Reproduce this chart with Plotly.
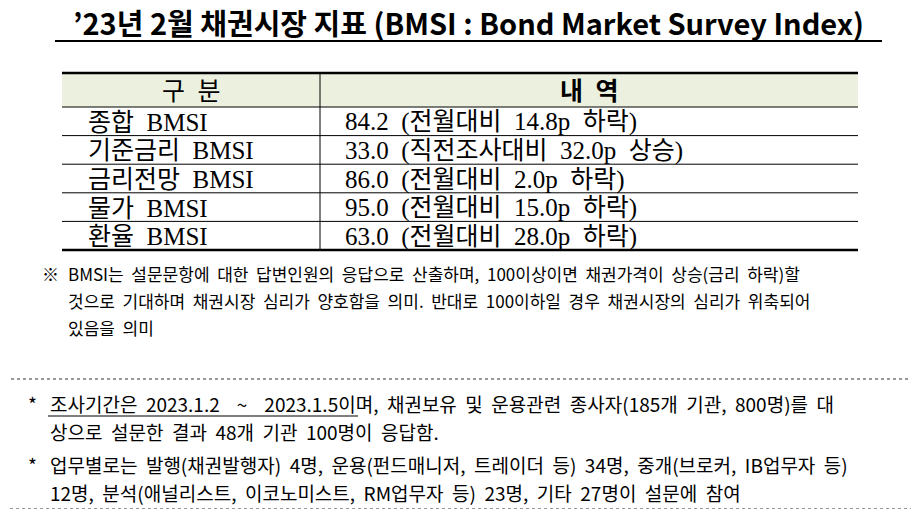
import plotly.graph_objects as go

# ── Data ─────────────────────────────────────────────────────────────────────
TITLE = "’23년 2월 채권시장 지표 (BMSI : Bond Market Survey Index)"
HEADERS = ["구 분", "내 역"]
categories = ["종합 BMSI", "기준금리 BMSI", "금리전망 BMSI", "물가 BMSI", "환율 BMSI"]
bmsi_values = [84.2, 33.0, 86.0, 95.0, 63.0]
compare_basis = ["전월대비", "직전조사대비", "전월대비", "전월대비", "전월대비"]
changes = [14.8, 32.0, 2.0, 15.0, 28.0]
directions = ["하락", "상승", "하락", "하락", "하락"]

NOTE_LINES = [
    "BMSI는 설문문항에 대한 답변인원의 응답으로 산출하며, 100이상이면 채권가격이 상승(금리 하락)할",
    "것으로 기대하며 채권시장 심리가 양호함을 의미. 반대로 100이하일 경우 채권시장의 심리가 위축되어",
    "있음을 의미",
]
BOX_LINES = [
    ("*", "조사기간은 2023.1.2  ~  2023.1.5이며, 채권보유 및 운용관련 종사자(185개 기관, 800명)를 대"),
    ("", "상으로 설문한 결과 48개 기관 100명이 응답함."),
    ("*", "업무별로는 발행(채권발행자) 4명, 운용(펀드매니저, 트레이더 등) 34명, 중개(브로커, IB업무자 등)"),
    ("", "12명, 분석(애널리스트, 이코노미스트, RM업무자 등) 23명, 기타 27명이 설문에 참여"),
]

SERIF = "Liberation Serif, Noto Sans CJK KR"
SANS = "Noto Sans CJK KR"


def wide(s):
    # the reference font sets words far apart
    return s.replace(" ", "\u00a0 ")


# ── Geometry (pixels, page coordinates) ──────────────────────────────────────
W, H = 919, 517
PAD = 8  # body margin of the written page
TX0, TX1, TDIV = 62, 858, 320
HEAD_TOP, HEAD_BOT = 73, 107
ROW_H = 28.6

fig = go.Figure()
shapes, annos = [], []

annos.append(dict(x=468, y=22, text=f"<b>{TITLE}</b>", showarrow=False,
                  font=dict(family=SANS, size=29, color="black")))
shapes.append(dict(type="line", x0=55, x1=882, y0=41, y1=41, line=dict(color="black", width=2)))

# header
shapes.append(dict(type="rect", x0=TX0, x1=TX1, y0=HEAD_TOP, y1=HEAD_BOT,
                   fillcolor="#EBF1DE", line=dict(width=0), layer="below"))
for i, h in enumerate(HEADERS):
    cx = (TX0 + TDIV) / 2 if i == 0 else (TDIV + TX1) / 2
    annos.append(dict(x=cx, y=(HEAD_TOP + HEAD_BOT) / 2 + 1, text=f"<b>{wide(h)}</b>" if i else wide(h),
                      showarrow=False, font=dict(family=SERIF, size=25, color="black")))

bottom = HEAD_BOT + ROW_H * len(categories)
for i, (cat, v, basis, c, d) in enumerate(zip(categories, bmsi_values, compare_basis, changes, directions)):
    yc = HEAD_BOT + ROW_H * (i + 0.5) + 1
    annos.append(dict(x=86, y=yc, text=wide(cat), xanchor="left", showarrow=False,
                      font=dict(family=SERIF, size=25, color="black")))
    annos.append(dict(x=343, y=yc, text=wide(f"{v:.1f} ({basis} {c:.1f}p {d})"), xanchor="left",
                      showarrow=False, font=dict(family=SERIF, size=25, color="black")))
    if i > 0:
        y = HEAD_BOT + ROW_H * i
        shapes.append(dict(type="line", x0=TX0, x1=TX1, y0=y, y1=y, line=dict(color="black", width=1)))

shapes += [
    dict(type="line", x0=TX0, x1=TX1, y0=HEAD_TOP, y1=HEAD_TOP, line=dict(color="black", width=2.5)),
    dict(type="line", x0=TX0, x1=TX1, y0=HEAD_BOT, y1=HEAD_BOT, line=dict(color="black", width=1)),
    dict(type="line", x0=TX0, x1=TX1, y0=bottom, y1=bottom, line=dict(color="black", width=2.5)),
    dict(type="line", x0=TDIV, x1=TDIV, y0=HEAD_TOP, y1=bottom, line=dict(color="black", width=1)),
]

# note
annos.append(dict(x=40, y=273, text="※", xanchor="left", showarrow=False,
                  font=dict(family=SANS, size=17, color="black")))
for j, line in enumerate(NOTE_LINES):
    annos.append(dict(x=66, y=273 + 27 * j, text=wide(line), xanchor="left", showarrow=False,
                      font=dict(family=SANS, size=17, color="black")))

# dotted box
shapes.append(dict(type="rect", x0=5, x1=913, y0=379, y1=509,
                   line=dict(color="#333", width=1, dash="dot")))
for j, (mark, line) in enumerate(BOX_LINES):
    y = 403 + 28 * j + (5 if j >= 2 else 0)
    if mark:
        annos.append(dict(x=26, y=y, text=mark, xanchor="left", showarrow=False,
                          font=dict(family=SANS, size=19, color="black")))
    annos.append(dict(x=48, y=y, text=wide(line), xanchor="left", showarrow=False,
                      font=dict(family=SANS, size=19, color="black")))
shapes.append(dict(type="line", x0=48, x1=358, y0=416, y1=416, line=dict(color="black", width=1.2)))

fig.update_layout(
    width=W - 2 * PAD, height=H - 2 * PAD, margin=dict(l=0, r=0, t=0, b=0),
    paper_bgcolor="white", plot_bgcolor="white",
    xaxis=dict(range=[PAD, W - PAD], visible=False, fixedrange=True),
    yaxis=dict(range=[H - PAD, PAD], visible=False, fixedrange=True),
    shapes=shapes, annotations=annos, showlegend=False,
)
fig.write_html("out.html")
